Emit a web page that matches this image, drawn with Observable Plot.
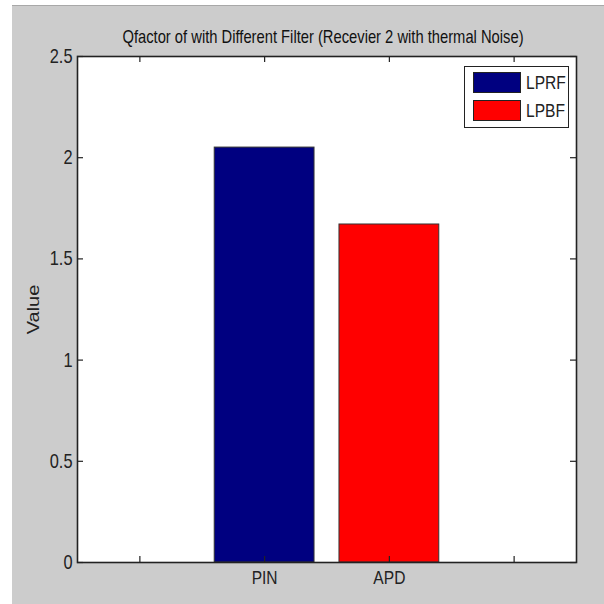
<!DOCTYPE html>
<html>
<head>
<meta charset="utf-8">
<script src="https://cdn.jsdelivr.net/npm/d3@7"></script>
<script src="https://cdn.jsdelivr.net/npm/@observablehq/plot@0.6"></script>
<style>
  html, body { margin: 0; padding: 0; background: #ffffff; width: 604px; height: 604px; overflow: hidden; }
  #bg { position: absolute; left: 12px; top: 5px; width: 592px; height: 599px; background: #cccccc; border-top: 1px solid #a8a8a8; }
  #chart { position: absolute; left: 0; top: 0; }
  #legend { position: absolute; left: 464px; top: 66px; width: 103px; height: 60px; background: #fff; border: 1px solid #222; font-family: "Liberation Sans", Arial, sans-serif; font-size: 19px; color: #222; }
  .item { position: absolute; left: 8px; height: 21px; line-height: 21px; }
  .sw { position: absolute; left: 0; top: 0; width: 46px; height: 19px; border: 1px solid #222; }
  .lab { position: absolute; left: 53px; top: 0; white-space: nowrap; transform: scaleX(0.82); transform-origin: left center; }
</style>
</head>
<body>
<div id="bg"></div>
<div id="chart"></div>
<div id="legend"></div>
<script>
const titleText = "Qfactor of with Different Filter (Recevier 2 with thermal Noise)";
const yLabel = "Value";
const categories = ["PIN", "APD"];
const values = [2.05, 1.67];
const seriesNames = ["LPRF", "LPBF"];
const colors = ["#000080", "#ff0000"];
const xTickLabels = ["", "PIN", "APD", ""];
const xTicks = [1, 2, 3, 4];
const yTicks = [0, 0.5, 1, 1.5, 2, 2.5];

const W = 604, H = 604;
const mL = 77, mR = 28, mT = 56, mB = 42;
const fw = W - mL - mR, fh = H - mT - mB;
const tick = 6;
const font = "'Liberation Sans', Arial, sans-serif";

const bars = categories.map((c, i) => ({cat: c, value: values[i], color: colors[i], pos: xTicks[xTickLabels.indexOf(c)]}));

const plot = Plot.plot({
  width: W, height: H,
  marginLeft: mL, marginRight: mR, marginTop: mT, marginBottom: mB,
  style: {background: "transparent", fontFamily: font, fontSize: "19px", color: "#222"},
  x: {domain: [0.5, 4.5]},
  y: {domain: [0, 2.5]},
  color: {type: "identity"},
  marks: [
    Plot.frame({fill: "white"}),
    Plot.rectY(bars, {x1: d => d.pos - 0.4, x2: d => d.pos + 0.4, y: "value", fill: "color", stroke: "#333", strokeWidth: 1}),
    Plot.tickX(xTicks, {x: d => d, insetTop: fh - tick, stroke: "#222", strokeWidth: 1.2}),
    Plot.tickX(xTicks, {x: d => d, insetBottom: fh - tick, stroke: "#222", strokeWidth: 1.2}),
    Plot.tickY(yTicks, {y: d => d, insetRight: fw - tick, stroke: "#222", strokeWidth: 1.2}),
    Plot.tickY(yTicks, {y: d => d, insetLeft: fw - tick, stroke: "#222", strokeWidth: 1.2}),
    Plot.frame({stroke: "#222", strokeWidth: 1.6}),
    Plot.axisX(xTicks, {tickSize: 0, tickPadding: 8, tickFormat: d => xTickLabels[d - 1], label: null, fontSize: 19, fill: "#222", className: "squeeze"}),
    Plot.axisY(yTicks, {tickSize: 0, tickPadding: 5, tickFormat: d => String(d), label: null, fontSize: 20, fill: "#222", className: "squeeze"}),
    Plot.text([titleText], {frameAnchor: "top", dy: -19, dx: -4, text: d => d, fontSize: 18, fill: "#111", lineAnchor: "middle", className: "squeeze"}),
    Plot.text([yLabel], {frameAnchor: "left", dx: -44, text: d => d, rotate: -90, textAnchor: "middle", lineAnchor: "middle", fontSize: 20, fill: "#222", className: "squeezev"})
  ]
});
// horizontally condense the horizontal texts (the reference font is narrow)
plot.querySelectorAll(".squeeze text").forEach(t => {
  const tr = t.getAttribute("transform") || "";
  t.setAttribute("transform", tr + " scale(0.82,1)");
});
plot.querySelectorAll(".squeezev text").forEach(t => {
  const tr = t.getAttribute("transform") || "";
  t.setAttribute("transform", tr + " scale(1,0.82)");
});
document.getElementById("chart").appendChild(plot);

const legend = document.getElementById("legend");
seriesNames.forEach((name, i) => {
  const item = document.createElement("div");
  item.className = "item";
  item.style.top = (5 + i * 28) + "px";
  const sw = document.createElement("div");
  sw.className = "sw";
  sw.style.background = colors[i];
  const lab = document.createElement("div");
  lab.className = "lab";
  lab.textContent = name;
  item.appendChild(sw); item.appendChild(lab);
  legend.appendChild(item);
});
</script>
</body>
</html>
